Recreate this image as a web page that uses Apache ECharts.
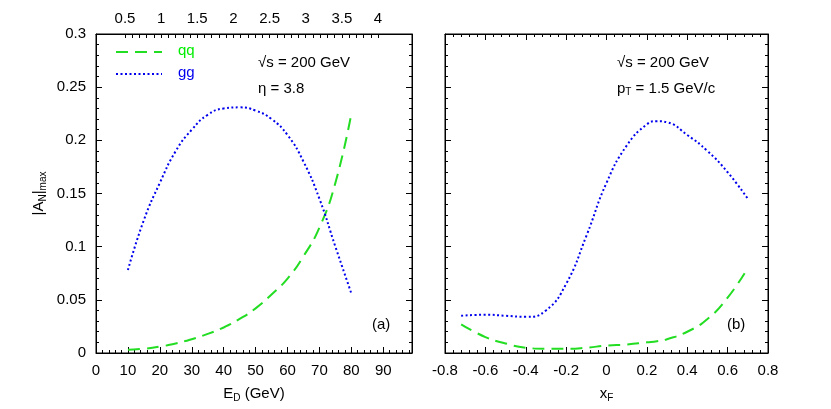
<!DOCTYPE html><html><head><meta charset="utf-8"><script src="https://cdn.jsdelivr.net/npm/echarts@6/dist/echarts.min.js"></script></head><body style="margin:0;background:#fff"><div id="c" style="width:831px;height:409px"></div><script>
const edX=[10,15,20,25,30,35,40,45,50,55,60,65,70,75,80];
const edQQ=[0.003,0.004,0.006,0.009,0.013,0.018,0.024,0.032,0.042,0.055,0.07,0.091,0.118,0.16,0.225];
const edGG=[0.078,0.125,0.16,0.19,0.21,0.224,0.23,0.231,0.228,0.22,0.205,0.18,0.145,0.1,0.056];
const xfX=[-0.72,-0.6,-0.5,-0.4,-0.3,-0.2,-0.1,0,0.1,0.2,0.25,0.3,0.4,0.5,0.6,0.7];
const xfQQ=[0.027,0.015,0.009,0.005,0.004,0.004,0.005,0.007,0.008,0.01,0.011,0.013,0.02,0.032,0.052,0.08];
const xfGG=[0.035,0.036,0.035,0.034,0.04,0.065,0.11,0.16,0.195,0.215,0.218,0.217,0.205,0.19,0.17,0.145];
const ptTicks=[0.5,1,1.5,2,2.5,3,3.5,4];
const F='Liberation Sans, Arial, sans-serif';
const z=(a,b)=>a.map((v,i)=>[v,b[i]]);
const ax={axisLine:{onZero:false,lineStyle:{color:'#000',width:1}},axisTick:{show:true,inside:true,length:6,lineStyle:{color:'#000'}},minorTick:{show:true,splitNumber:5,length:3,lineStyle:{color:'#000'}},splitLine:{show:false},axisLabel:{color:'#000',fontSize:15,fontFamily:F,margin:10}};
const sub={color:'#000',fontSize:15,fontFamily:F,rich:{s:{fontSize:10,verticalAlign:'bottom',padding:[8,0,0,0]}}};
const ch=echarts.init(document.getElementById('c'));
const pm=[];for(let i=5;i<=40;i++)pm.push(i/10);
ch.setOption({animation:false,
grid:[{left:96,top:34,width:316,height:319,show:true,borderColor:'#000'},{left:445,top:34,width:323,height:319,show:true,borderColor:'#000'}],
xAxis:[
{...ax,gridIndex:0,type:'value',min:0,max:99,interval:10,name:'E{s|D} (GeV)',nameLocation:'middle',nameGap:32,nameTextStyle:sub,axisLabel:{...ax.axisLabel,formatter:v=>v>95?'':v}},
{...ax,gridIndex:0,type:'value',position:'top',min:0.099,max:4.47,minorTick:{show:false},axisTick:{show:true,inside:true,length:4,lineStyle:{color:'#000'},customValues:pm},axisLabel:{...ax.axisLabel,customValues:ptTicks,margin:8}},
{...ax,gridIndex:1,type:'value',min:-0.8,max:0.8,interval:0.2,name:'x{s|F}',nameLocation:'middle',nameGap:32,nameTextStyle:sub,axisLabel:{...ax.axisLabel,formatter:v=>Math.round(v*10)/10}},
{...ax,gridIndex:1,type:'value',position:'top',min:-0.8,max:0.8,interval:0.2,axisLabel:{show:false}}
],
yAxis:[
{...ax,gridIndex:0,type:'value',min:0,max:0.3,interval:0.05,name:'|A{s|N}|{s|max}',nameLocation:'middle',nameGap:48,nameTextStyle:sub},
{...ax,gridIndex:0,type:'value',position:'right',min:0,max:0.3,interval:0.05,axisLabel:{show:false}},
{...ax,gridIndex:1,type:'value',position:'left',min:0,max:0.3,interval:0.05,axisLabel:{show:false}},
{...ax,gridIndex:1,type:'value',position:'right',min:0,max:0.3,interval:0.05,axisLabel:{show:false}}
],
series:[
{name:'qq',type:'line',xAxisIndex:0,yAxisIndex:0,data:z(edX,edQQ),smooth:true,symbol:'none',lineStyle:{color:'#22dd22',width:2,type:[12,7]}},
{name:'gg',type:'line',xAxisIndex:0,yAxisIndex:0,data:z(edX,edGG),smooth:true,symbol:'none',lineStyle:{color:'#0000ee',width:2,type:[2,2.5]}},
{name:'qq',type:'line',xAxisIndex:2,yAxisIndex:2,data:z(xfX,xfQQ),smooth:true,symbol:'none',lineStyle:{color:'#22dd22',width:2,type:[12,7]}},
{name:'gg',type:'line',xAxisIndex:2,yAxisIndex:2,data:z(xfX,xfGG),smooth:true,symbol:'none',lineStyle:{color:'#0000ee',width:2,type:[2,2.5]}}
],
graphic:[
{type:'line',shape:{x1:116,y1:52,x2:162,y2:52},style:{stroke:'#22dd22',lineWidth:2,lineDash:[12,7]}},
{type:'line',shape:{x1:116,y1:74,x2:162,y2:74},style:{stroke:'#0000ee',lineWidth:2,lineDash:[2,2.5]}},
{type:'text',left:178,top:43,style:{text:'qq',font:'15px '+F,fill:'#00ee00'}},
{type:'text',left:178,top:65,style:{text:'gg',font:'15px '+F,fill:'#0000ee'}},
{type:'text',left:258,top:55,style:{text:'√s = 200 GeV',font:'15px '+F,fill:'#000'}},
{type:'text',left:258,top:81,style:{text:'η = 3.8',font:'15px '+F,fill:'#000'}},
{type:'text',left:372,top:317,style:{text:'(a)',font:'15px '+F,fill:'#000'}},
{type:'text',left:617,top:55,style:{text:'√s = 200 GeV',font:'15px '+F,fill:'#000'}},
{type:'text',left:617,top:81,style:{rich:{a:{font:'15px '+F,fill:'#000'},s:{font:'10px '+F,fill:'#000',verticalAlign:'bottom',padding:[8,0,0,0]}},text:'{a|p}{s|T}{a| = 1.5 GeV/c}'}},
{type:'text',left:727,top:317,style:{text:'(b)',font:'15px '+F,fill:'#000'}}
]});
</script></body></html>
